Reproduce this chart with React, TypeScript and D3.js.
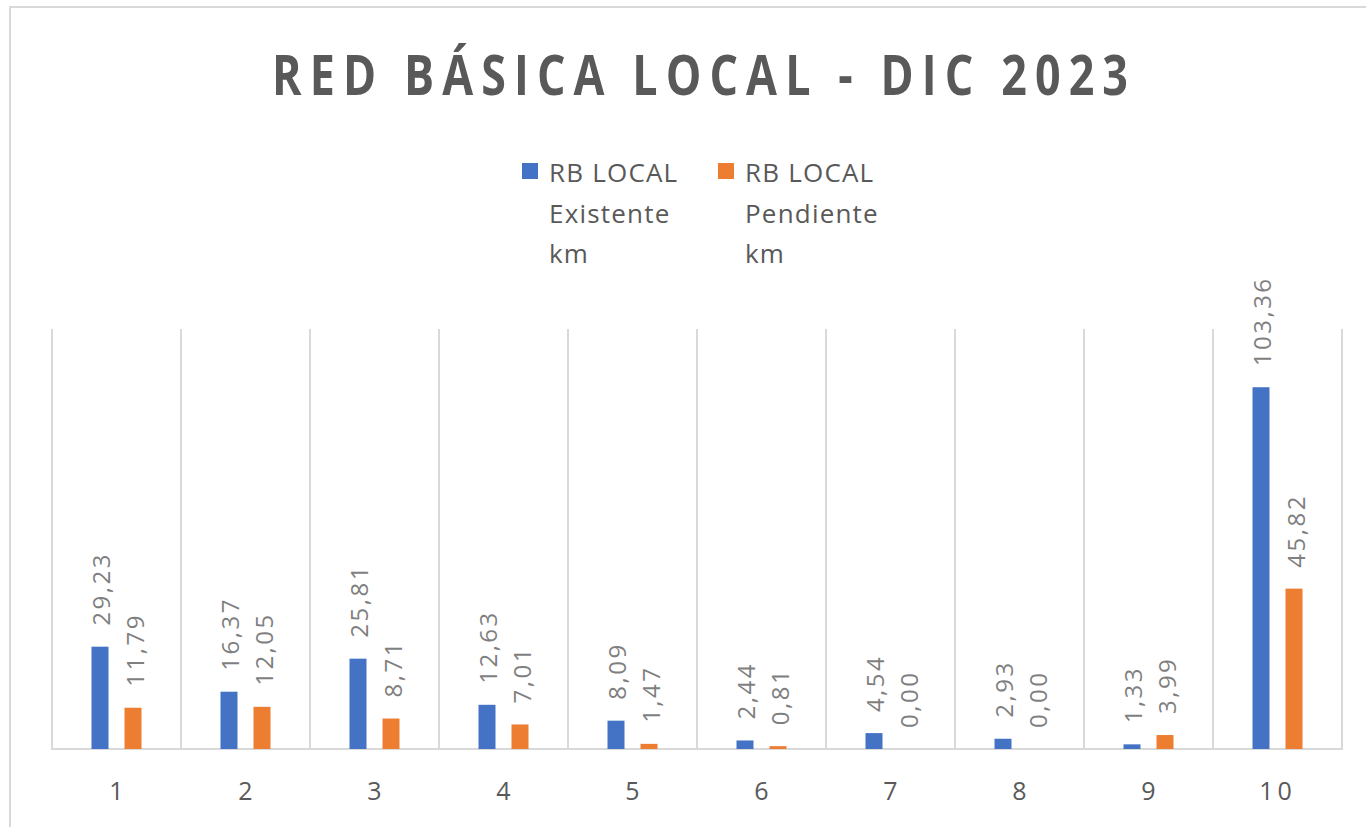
import React from 'react';
import * as d3 from 'd3';

const CATEGORIES = ['1', '2', '3', '4', '5', '6', '7', '8', '9', '10'];
const EXISTENTE = [29.23, 16.37, 25.81, 12.63, 8.09, 2.44, 4.54, 2.93, 1.33, 103.36];
const PENDIENTE = [11.79, 12.05, 8.71, 7.01, 1.47, 0.81, 0.0, 0.0, 3.99, 45.82];
const SERIES = ['RB LOCAL Existente km', 'RB LOCAL Pendiente km'];
const SERIES_LINES = [
  ['RB LOCAL', 'Existente', 'km'],
  ['RB LOCAL', 'Pendiente', 'km'],
];
const COLORS = ['#4472C4', '#ED7D31'];
const TITLE = 'RED BÁSICA LOCAL - DIC 2023';

const W = 1366;
const H = 827;
const PLOT = { left: 52, right: 1342, top: 329, bottom: 749 };
const FONT = '"Open Sans", "Noto Sans", sans-serif';
const TITLE_SX = 0.8;

const fmt = (v: number) => v.toFixed(2).replace('.', ',');

export default function App() {
  const x0 = d3.scaleBand<string>().domain(CATEGORIES).range([PLOT.left, PLOT.right]).padding(0);
  const x1 = d3
    .scaleBand<string>()
    .domain(SERIES)
    .range([0, x0.bandwidth()])
    .paddingInner(0.485)
    .paddingOuter(1.197);
  const y = d3.scaleLinear().domain([0, 120]).range([PLOT.bottom, PLOT.top]);

  const data = [EXISTENTE, PENDIENTE];

  return (
    <svg
      width={W}
      height={H}
      style={{ position: 'absolute', left: 0, top: 0, display: 'block', background: '#fff' }}
      fontFamily={FONT}
    >
      {/* chart frame */}
      <rect x={10} y={7} width={W + 20} height={H + 20} fill="#fff" stroke="#d9d9d9" strokeWidth={2} />

      {/* title: condensed glyphs, wide spacing */}
      <g transform={`translate(700,95) scale(${TITLE_SX},1)`}>
        <text
          x={0}
          y={0}
          textAnchor="middle"
          fontSize={56}
          fontWeight={700}
          fill="#595959"
          textLength={856 / TITLE_SX}
          lengthAdjust="spacing"
        >
          {TITLE}
        </text>
      </g>

      {/* legend */}
      {SERIES_LINES.map((lines, i) => {
        const lx = [522, 718][i];
        return (
          <g key={i}>
            <rect x={lx} y={163} width={16} height={16} fill={COLORS[i]} />
            {lines.map((ln, j) => (
              <text
                key={j}
                x={lx + 27}
                y={182 + j * 40.5}
                fontSize={26}
                fill="#595959"
                letterSpacing={1.2}
              >
                {ln}
              </text>
            ))}
          </g>
        );
      })}

      {/* category separators */}
      {[...CATEGORIES.map((c) => x0(c)!), PLOT.right].map((xv, i) => (
        <line key={i} x1={xv} x2={xv} y1={PLOT.top} y2={PLOT.bottom} stroke="#d9d9d9" strokeWidth={2} />
      ))}
      <line x1={PLOT.left - 1} x2={PLOT.right + 1} y1={PLOT.bottom} y2={PLOT.bottom} stroke="#d9d9d9" strokeWidth={2} />

      {/* bars + labels */}
      {CATEGORIES.map((c, ci) => (
        <g key={c} transform={`translate(${x0(c)},0)`}>
          {SERIES.map((s, si) => {
            const v = data[si][ci];
            const bx = x1(s)!;
            const bw = x1.bandwidth();
            const top = y(v);
            const cx = bx + bw / 2;
            const ly = top - 21;
            return (
              <g key={s}>
                <rect x={bx} y={top} width={bw} height={PLOT.bottom - top} fill={COLORS[si]} />
                <text
                  transform={`translate(${cx + 1},${ly}) rotate(-90)`}
                  dominantBaseline="central"
                  fontSize={24}
                  letterSpacing={2.5}
                  fill="#7f7f7f"
                >
                  {fmt(v)}
                </text>
              </g>
            );
          })}
          <text
            x={x0.bandwidth() / 2}
            y={800}
            textAnchor="middle"
            fontSize={25}
            letterSpacing={c.length > 1 ? 4 : 0}
            fill="#595959"
          >
            {c}
          </text>
        </g>
      ))}
    </svg>
  );
}
